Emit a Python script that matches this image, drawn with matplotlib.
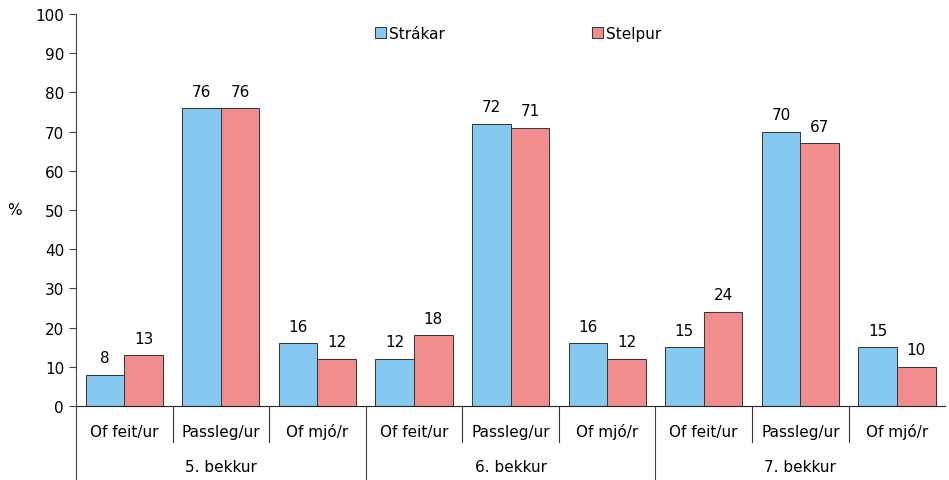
import numpy as np
import matplotlib.pyplot as plt

# data
sub_labels = ["Of feit/ur", "Passleg/ur", "Of mjó/r"] * 3
group_labels = ["5. bekkur", "6. bekkur", "7. bekkur"]
strakar = [8, 76, 16, 12, 72, 16, 15, 70, 15]
stelpur = [13, 76, 12, 18, 71, 12, 24, 67, 10]

blue = "#85C8F0"
pink = "#F28D8D"
fs = 11

plt.rcParams['font.family'] = ['DejaVu Sans']

fig = plt.figure(figsize=(9.49, 4.81), dpi=100)
ax = fig.add_axes([0.080, 0.154, 0.916, 0.815])

x = np.arange(len(sub_labels))
w = 0.4
b1 = ax.bar(x - w/2, strakar, w, color=blue, edgecolor="#333333", linewidth=0.7, label="Strákar")
b2 = ax.bar(x + w/2, stelpur, w, color=pink, edgecolor="#333333", linewidth=0.7, label="Stelpur")

for bars in (b1, b2):
    for r in bars:
        h = r.get_height()
        ax.text(r.get_x() + r.get_width()/2, h + 2.4, f"{h:g}", ha="center", va="bottom", fontsize=fs)

ax.set_xlim(-0.5, 8.5)
ax.set_ylim(0, 100)
ax.set_yticks(range(0, 101, 10))
ax.tick_params(axis="y", labelsize=fs, length=5, direction="out", color="#444444")
ax.set_xticks([])
for s in ["top", "right"]:
    ax.spines[s].set_visible(False)
ax.spines["left"].set_color("#444444")
ax.spines["bottom"].set_color("#222222")

# category labels and separators below the axis
tr = ax.get_xaxis_transform()
for i, lab in enumerate(sub_labels):
    ax.text(i, -0.065, lab, transform=tr, ha="center", va="center", fontsize=fs)
for i, lab in enumerate(group_labels):
    ax.text(3*i + 1, -0.155, lab, transform=tr, ha="center", va="center", fontsize=fs)
for xs in [0.5, 1.5, 3.5, 4.5, 6.5, 7.5]:
    ax.plot([xs, xs], [0, -0.092], transform=tr, color="#333333", lw=0.8, clip_on=False)
for xs in [-0.5, 2.5, 5.5]:
    ax.plot([xs, xs], [0, -0.19], transform=tr, color="#444444", lw=0.8, clip_on=False)

fig.text(0.015, 0.563, "%", fontsize=fs, ha="center", va="center")

ax.legend(loc="center", bbox_to_anchor=(0.509, 0.95), ncol=2, frameon=False,
          handlelength=0.7, handleheight=0.7, handletextpad=0.2,
          columnspacing=9.65, fontsize=fs)

fig.savefig("out.png", dpi=100)
